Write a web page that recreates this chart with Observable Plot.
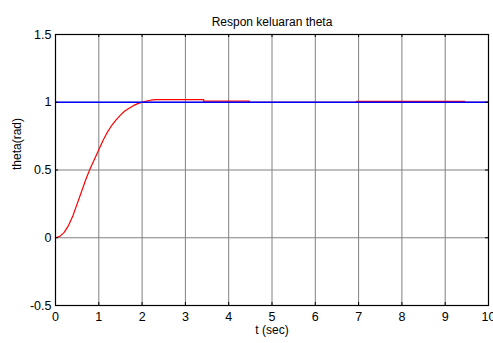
<!DOCTYPE html>
<html>
<head>
<meta charset="utf-8">
<script src="https://cdn.jsdelivr.net/npm/d3@7"></script>
<script src="https://cdn.jsdelivr.net/npm/@observablehq/plot@0.6"></script>
<style>
  html, body { margin: 0; padding: 0; background: #fff; }
  svg { font-family: "Liberation Sans", Arial, sans-serif; }
</style>
</head>
<body>
<div id="chart"></div>
<script>
const titleText = "Respon keluaran theta";
const xLabel = "t (sec)";
const yLabel = "theta(rad)";
const xTicks = [0, 1, 2, 3, 4, 5, 6, 7, 8, 9, 10];
const yTicks = [-0.5, 0, 0.5, 1, 1.5];

// Red: system response theta(t)
const respT = [0, 0.1, 0.2, 0.3, 0.4, 0.5, 0.6, 0.7, 0.8, 0.9, 1.0, 1.1, 1.2, 1.3, 1.4, 1.5, 1.6, 1.7, 1.8, 1.9, 2.0, 2.1, 2.2, 2.3, 2.9, 3.42, 3.42, 4.48, 4.48, 6.95, 6.95, 9.45, 9.45, 10];
const respV = [0, 0.01, 0.04, 0.09, 0.16, 0.25, 0.34, 0.43, 0.51, 0.58, 0.65, 0.72, 0.78, 0.83, 0.87, 0.905, 0.935, 0.955, 0.975, 0.99, 1.0, 1.008, 1.015, 1.019, 1.019, 1.019, 1.008, 1.008, 1.0, 1.0, 1.007, 1.007, 1.0, 1.0];
// Blue: reference (setpoint)
const refT = [0, 10];
const refV = [1, 1];

const resp = respT.map((t, i) => ({t, v: respV[i]}));
const ref = refT.map((t, i) => ({t, v: refV[i]}));

const W = 493, H = 343, mL = 55, mR = 5, mT = 34, mB = 38;
const iw = W - mL - mR, ih = H - mT - mB;

const plot = Plot.plot({
  width: W, height: H,
  marginLeft: mL, marginRight: mR, marginTop: mT, marginBottom: mB,
  style: {fontFamily: "Liberation Sans, Arial, sans-serif", fontSize: "12px", color: "#000", background: "#fff"},
  x: {domain: [0, 10], ticks: xTicks},
  y: {domain: [-0.5, 1.5], ticks: yTicks},
  marks: [
    Plot.ruleX(xTicks, {x: d => d, stroke: "#808080", strokeWidth: 1}),
    Plot.ruleY(yTicks, {y: d => d, stroke: "#808080", strokeWidth: 1}),
    Plot.line(resp, {x: "t", y: "v", stroke: "#ff0000", strokeWidth: 1.2}),
    Plot.line(ref, {x: "t", y: "v", stroke: "#0000ff", strokeWidth: 1.3}),
    Plot.tickX(xTicks, {x: d => d, stroke: "#000", insetTop: ih - 3}),
    Plot.tickX(xTicks, {x: d => d, stroke: "#000", insetBottom: ih - 3}),
    Plot.tickY(yTicks, {y: d => d, stroke: "#000", insetRight: iw - 3}),
    Plot.tickY(yTicks, {y: d => d, stroke: "#000", insetLeft: iw - 3}),
    Plot.frame({stroke: "#000", strokeWidth: 1.2}),
    Plot.axisX(xTicks, {tickSize: 0, tickPadding: 7, fontSize: 12.5, label: null, tickFormat: d => String(d)}),
    Plot.axisY(yTicks, {tickSize: 0, tickPadding: 4, fontSize: 12.5, label: null, tickFormat: d => String(d)}),
    Plot.text([xLabel], {frameAnchor: "bottom", dy: 20, fontSize: 12, lineAnchor: "top", text: d => d}),
    Plot.text([titleText], {frameAnchor: "top", dy: -9, fontSize: 12, lineAnchor: "bottom", text: d => d}),
    Plot.text([yLabel], {frameAnchor: "left", dx: -38, rotate: -90, fontSize: 12, text: d => d})
  ]
});
document.getElementById("chart").appendChild(plot);
</script>
</body>
</html>
